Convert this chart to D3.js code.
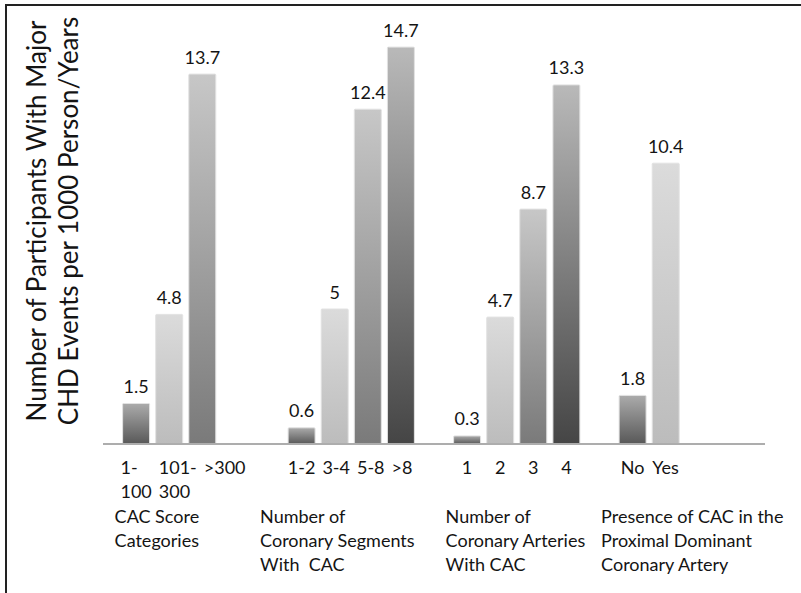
<!DOCTYPE html>
<html>
<head>
<meta charset="utf-8">
<script src="https://cdn.jsdelivr.net/npm/d3@7"></script>
<style>
  html, body { margin: 0; padding: 0; background: #fff; }
  svg { display: block; }
  text { font-family: Lato, "Open Sans", sans-serif; fill: #141414; }
</style>
</head>
<body>
<svg id="chart" width="801" height="593"></svg>
<script>
// Incidence of major CHD events per 1000 person-years, grouped by CAC measure
const groupTitles = [
  ["CAC Score", "Categories"],
  ["Number of", "Coronary Segments", "With  CAC"],
  ["Number of", "Coronary Arteries", "With CAC"],
  ["Presence of CAC in the", "Proximal Dominant", "Coronary Artery"]
];
const groupCategories = [
  [["1-", "100"], ["101-", "300"], [">300"]],
  [["1-2"], ["3-4"], ["5-8"], [">8"]],
  [["1"], ["2"], ["3"], ["4"]],
  [["No"], ["Yes"]]
];
const groupValues = [
  [1.5, 4.8, 13.7],
  [0.6, 5, 12.4, 14.7],
  [0.3, 4.7, 8.7, 13.3],
  [1.8, 10.4]
];
const yTitle = ["Number of Participants With Major", "CHD Events per 1000 Person/Years"];

// Layout: empty slots before each group / after the last, and title shifts
const gapsBefore = [0, 2, 1, 1];
const gapsAfter = 2;
const titleShift = [-8, -28, -8, -18];

// Build the slot domain (bars + spacer slots)
const slots = [];
const bars = [];
groupValues.forEach((vals, g) => {
  for (let i = 0; i < gapsBefore[g]; i++) slots.push(`gap-${g}-${i}`);
  vals.forEach((v, i) => {
    const key = `${g}-${i}`;
    slots.push(key);
    bars.push({ key, g, i, value: v, label: groupCategories[g][i] });
  });
});
for (let i = 0; i < gapsAfter; i++) slots.push(`end-${i}`);

const svg = d3.select("#chart");
const axisLeft = 103, axisRight = 765, baseY = 444;

const x = d3.scaleBand()
  .domain(slots)
  .range([axisLeft, axisRight])
  .paddingInner(0)
  .paddingOuter(0.5)
  .align(0.5);

const y = d3.scaleLinear().domain([0, 16]).range([baseY, baseY - 27 * 16]);

const barW = x.step() * 0.815;
const cx = k => x(k) + x.bandwidth() / 2;

// Vertical gradients, one per position within a group
const shades = [
  ["#ababab", "#585858"],
  ["#dbdbdb", "#bcbcbc"],
  ["#c7c7c7", "#7a7a7a"],
  ["#b9b9b9", "#454545"]
];
const defs = svg.append("defs");
shades.forEach((s, i) => {
  const lg = defs.append("linearGradient")
    .attr("id", `shade-${i}`)
    .attr("x1", 0).attr("y1", 0).attr("x2", 0).attr("y2", 1);
  lg.append("stop").attr("offset", "0%").attr("stop-color", s[0]);
  lg.append("stop").attr("offset", "100%").attr("stop-color", s[1]);
});

// Frame lines
svg.append("line").attr("x1", 6).attr("x2", 6).attr("y1", 4).attr("y2", 593)
  .attr("stroke", "#222").attr("stroke-width", 2);
svg.append("line").attr("x1", 5).attr("x2", 801).attr("y1", 5).attr("y2", 5)
  .attr("stroke", "#222").attr("stroke-width", 2);

// Bars
svg.append("g").selectAll("rect").data(bars).join("rect")
  .attr("x", d => cx(d.key) - barW / 2)
  .attr("y", d => y(d.value))
  .attr("width", barW)
  .attr("height", d => y(0) - y(d.value))
  .attr("rx", 1)
  .attr("fill", d => `url(#shade-${d.i})`)
  .attr("stroke", "#e2e2e2")
  .attr("stroke-width", 1);

// Baseline
svg.append("line")
  .attr("x1", axisLeft).attr("x2", axisRight)
  .attr("y1", baseY).attr("y2", baseY)
  .attr("stroke", "#adadad").attr("stroke-width", 2);

// Value labels
svg.append("g").selectAll("text").data(bars).join("text")
  .attr("x", d => cx(d.key))
  .attr("y", d => y(d.value) - 10.5)
  .attr("text-anchor", "middle")
  .attr("font-size", 18)
  .text(d => d.value);

// Category labels: wrapped lines, block centred under the bar,
// nudged right when it would collide with the previous label
const lineH = 24;
const catG = svg.append("g");
let prevRight = -Infinity;
bars.forEach(d => {
  const t = catG.append("text").attr("font-size", 18);
  d.label.forEach((ln, j) => {
    t.append("tspan").attr("x", 0).attr("y", 474 + j * lineH).text(ln);
  });
  const w = t.node().getBBox().width;
  let left = cx(d.key) - w / 2;
  if (left < prevRight + 7) left = prevRight + 7;
  prevRight = left + w;
  t.attr("transform", `translate(${left},0)`);
});

// Group titles, left-aligned near each group's first bar
const titleG = svg.append("g");
groupTitles.forEach((lines, g) => {
  const first = bars.find(b => b.g === g);
  const left = cx(first.key) - barW / 2 + titleShift[g];
  const t = titleG.append("text").attr("font-size", 18)
    .attr("transform", `translate(${left},0)`);
  lines.forEach((ln, j) => {
    t.append("tspan").attr("x", 0).attr("y", 522.5 + j * lineH)
      .style("white-space", "pre").text(ln);
  });
});

// Y-axis title (two rotated lines)
const yt = svg.append("text")
  .attr("transform", "translate(46,221) rotate(-90)")
  .attr("text-anchor", "middle")
  .attr("font-size", 26);
yTitle.forEach((ln, j) => {
  yt.append("tspan").attr("x", 0).attr("y", j * 32).text(ln);
});
</script>
</body>
</html>
